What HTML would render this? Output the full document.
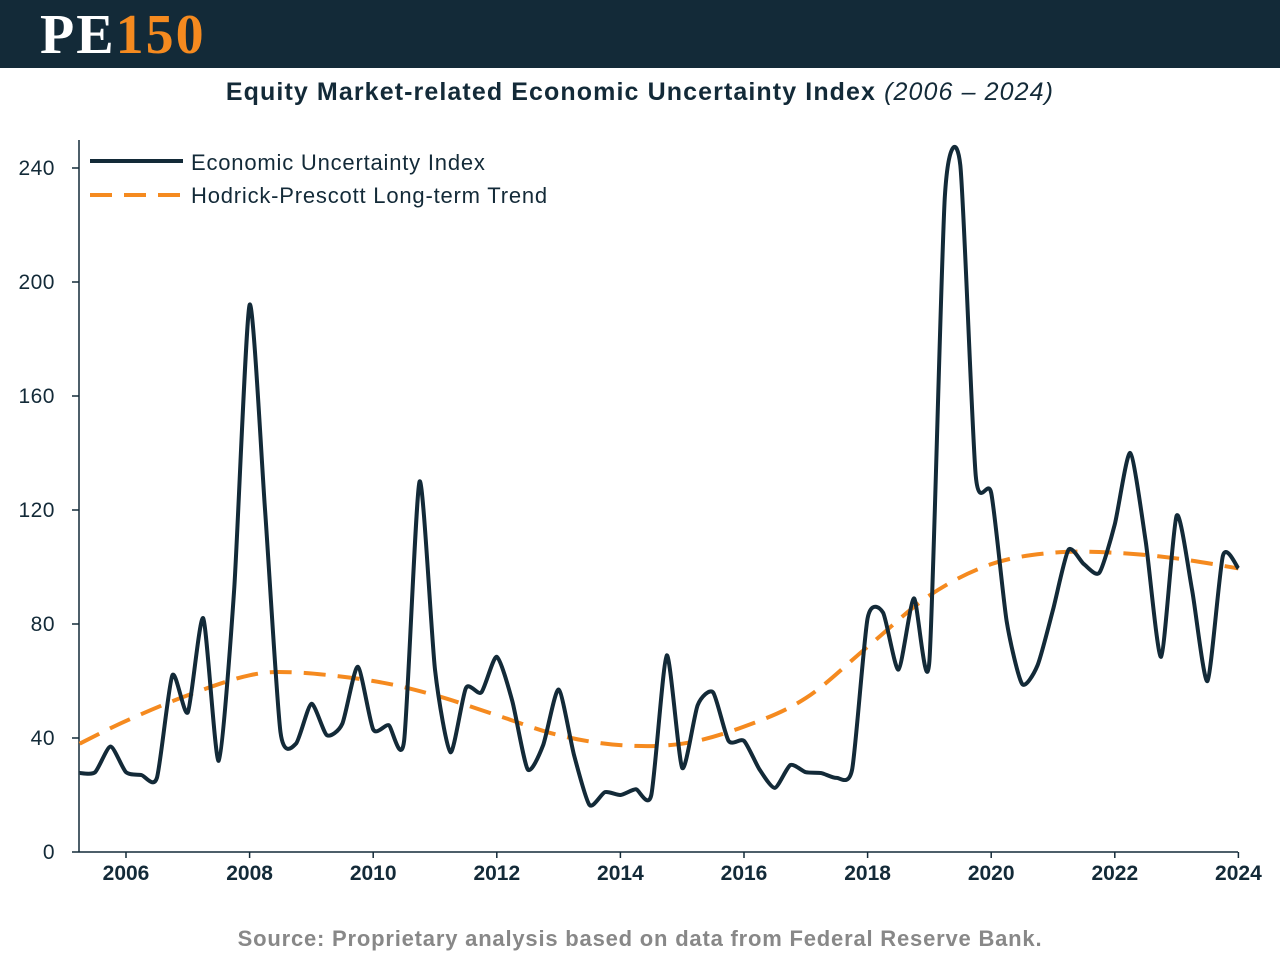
<!DOCTYPE html>
<html><head><meta charset="utf-8"><style>
body{margin:0;width:1280px;height:960px;background:#fff;font-family:"Liberation Sans",sans-serif;overflow:hidden}
#hdr{position:absolute;left:0;top:0;width:1280px;height:68px;background:#132a38}
#logo{position:absolute;left:40px;top:7px;font-family:"Liberation Serif",serif;font-weight:bold;font-size:56px;line-height:56px;color:#fff;letter-spacing:2px}
#logo span{color:#f58a1f}
</style></head><body>
<div id="hdr"><div id="logo">PE<span>150</span></div></div>
<svg id="c" width="1280" height="960" style="position:absolute;left:0;top:0">
<text x="640" y="100" text-anchor="middle" font-size="25" letter-spacing="1.1" font-weight="bold" fill="#132a38">Equity Market-related Economic Uncertainty Index <tspan font-weight="normal" font-style="italic">(2006 – 2024)</tspan></text>
<text x="640" y="946" text-anchor="middle" font-size="22" letter-spacing="0.8" font-weight="bold" fill="#888">Source: Proprietary analysis based on data from Federal Reserve Bank.</text>
<g id="axes"></g><g id="series"></g>
<g>
<line x1="90" y1="161" x2="183" y2="161" stroke="#132a38" stroke-width="4"/>
<text x="191" y="170" font-size="22" letter-spacing="0.8" fill="#132a38">Economic Uncertainty Index</text>
<line x1="90" y1="195" x2="183" y2="195" stroke="#f58a1f" stroke-width="4" stroke-dasharray="22,12"/>
<text x="191" y="203" font-size="22" letter-spacing="0.8" fill="#132a38">Hodrick-Prescott Long-term Trend</text>
</g>
</svg>
<script>
const indexValues=[27.7,28,37,28,27,26,62,49,82,32,92,192,120,42,38,52,41,45,65,43,44.5,39,130,64,35,57.5,56,68.5,53,29,37.5,57,34,16.5,21,20,22,20,69,29.5,51.5,56,39,39,29,22.5,30.5,28,27.7,26,29,82,84,64,89,67,230,241,132,126,81,59,65.5,85,106,101,98,115,140,109,68.5,118,92,60,104,99.5];
const startYear=2005.25, stepYear=0.25;
const trendYears=[2005.25,2006,2007,2008,2008.75,2010,2011,2012,2013,2014,2015,2016,2017,2018,2019,2020,2021,2022,2023,2024];
const trendValues=[38,46,55,62,63,60,55,48,41,37.5,38,44,54,72,90,101,105,105,103,99.5];
const yTicks=[0,40,80,120,160,200,240];
const xTicks=[2006,2008,2010,2012,2014,2016,2018,2020,2022,2024];
const X=y=>126+(y-2006)*61.8, Y=v=>852-v*2.85;
const NS='http://www.w3.org/2000/svg';
function mk(t,a,p){const e=document.createElementNS(NS,t);for(const k in a)e.setAttribute(k,a[k]);p.appendChild(e);return e;}
const ax=document.getElementById('axes'), se=document.getElementById('series');
const yl=mk('line',{x1:79,y1:140,x2:79,y2:852,stroke:'#132a38','stroke-width':1.5},ax);


const xl=mk('line',{x1:79,y1:852,x2:1238,y2:852,stroke:'#132a38','stroke-width':1.5},ax);


yTicks.forEach(v=>{mk('line',{x1:72,x2:79,y1:Y(v),y2:Y(v),stroke:'#132a38','stroke-width':1.5},ax);
const t=mk('text',{x:55,y:Y(v)+7,'text-anchor':'end','font-size':21,'letter-spacing':0.5,fill:'#132a38'},ax);t.textContent=v;

});
xTicks.forEach(v=>{mk('line',{x1:X(v),x2:X(v),y1:852,y2:858,stroke:'#132a38','stroke-width':1.5},ax);
const t=mk('text',{x:X(v),y:880,'text-anchor':'middle','font-size':21,'font-weight':'bold',fill:'#132a38'},ax);t.textContent=v;

});
function smooth(pts,k){let d='M'+pts[0][0]+','+pts[0][1];for(let i=0;i<pts.length-1;i++){const p0=pts[i-1]||pts[i],p1=pts[i],p2=pts[i+1],p3=pts[i+2]||p2;
d+=' C'+(p1[0]+(p2[0]-p0[0])/k)+','+(p1[1]+(p2[1]-p0[1])/k)+' '+(p2[0]-(p3[0]-p1[0])/k)+','+(p2[1]-(p3[1]-p1[1])/k)+' '+p2[0]+','+p2[1];}return d;}
const tp=mk('path',{d:smooth(trendYears.map((y,i)=>[X(y),Y(trendValues[i])]),6),fill:'none',stroke:'#f58a1f','stroke-width':4,'stroke-dasharray':'22,12'},se);


const ip=mk('path',{d:smooth(indexValues.map((v,i)=>[X(startYear+i*stepYear),Y(v)]),9),fill:'none',stroke:'#132a38','stroke-width':4,'stroke-linejoin':'round'},se);


</script>
</body></html>
